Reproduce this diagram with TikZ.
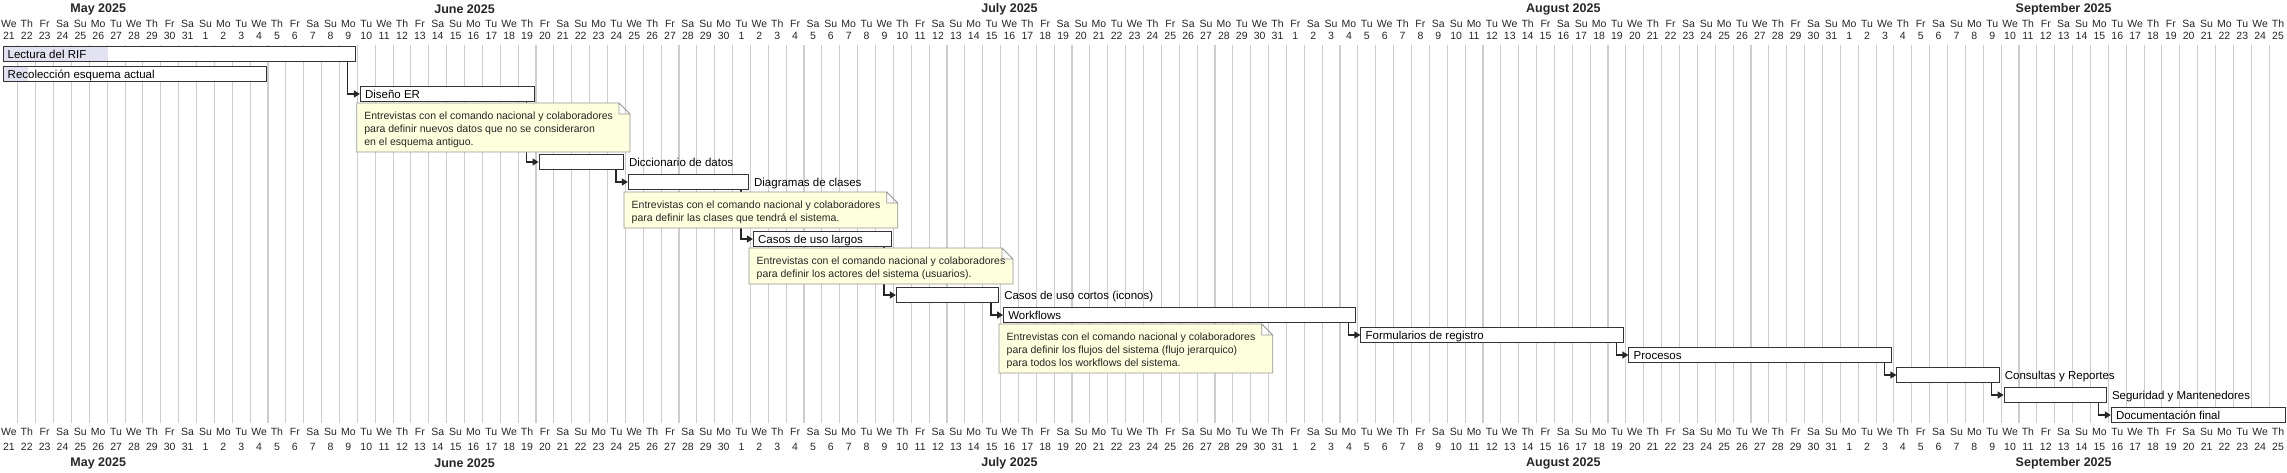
\documentclass[tikz,border=0pt]{standalone}
\usepackage{fontspec}
\setmainfont{Liberation Sans}
\usetikzlibrary{arrows.meta}
\newcommand\daywd{17.867}
\definecolor{notefill}{RGB}{254,255,221}
\definecolor{noteline}{RGB}{150,150,150}
\definecolor{donefill}{RGB}{226,226,240}
\definecolor{gridline}{RGB}{205,205,205}
\begin{document}
\begin{tikzpicture}[x=1pt,y=-1pt]
        \tikzstyle{bar} = [draw=black!80, line width=1pt, fill=white, anchor=north west, minimum height=15pt, inner sep=0pt]
        \tikzstyle{tasktext} = [font=\fontsize{11.5}{13}\selectfont, inner sep=0pt, text height=8.5pt, text depth=0pt]
        \tikzstyle{dep} = [line width=1.3pt, draw=black!85, -{Triangle[length=6pt,width=7pt]}]
        \tikzstyle{gridln} = [line width=1.1pt, draw=gridline]
        \tikzstyle{daytext} = [font=\fontsize{10.5}{12}\selectfont, inner sep=0pt, text height=7.5pt, text depth=0pt, text=black!85]
        \tikzstyle{month} = [font=\bfseries\fontsize{12.5}{14}\selectfont, inner sep=0pt, text=black!85]
        \tikzstyle{notebox} = [draw=noteline, fill=notefill, line width=0.9pt, line join=round]
        \tikzstyle{notetext} = [anchor=north west, align=left, inner sep=0pt, font=\fontsize{10.5}{12.8}\selectfont, text=black!85]
        \tikzset{tin/.style={label={[tasktext, anchor=west, xshift=5pt]west:#1}},
                 tout/.style={label={[tasktext, anchor=west, xshift=5pt]east:#1}},
                 done/.style={path picture={\fill[donefill] (path picture bounding box.north west) rectangle ([xshift=#1]path picture bounding box.south west);}}}
        \useasboundingbox (0,0) rectangle (2287,472);
        % grid
        \foreach \i in {1,...,127}
          \draw[gridln] (\i*\daywd,45) -- (\i*\daywd,423);
        % calendar, top and bottom
        \foreach \i in {0,...,127} {
          \pgfmathsetmacro\dname{{"We","Th","Fr","Sa","Su","Mo","Tu"}[int(mod(\i,7))]}
          \pgfmathtruncatemacro\dnum{\i<11 ? \i+21 : (\i<41 ? \i-10 : (\i<72 ? \i-40 : (\i<103 ? \i-71 : \i-102)))}
          \node[daytext] (dn\i) at ({(\i+0.5)*\daywd},24) {\dname};
          \node[daytext] (dd\i) at ({(\i+0.5)*\daywd},36) {\dnum};
          \node[daytext] (bn\i) at ({(\i+0.5)*\daywd},432) {\dname};
          \node[daytext] (bd\i) at ({(\i+0.5)*\daywd},447) {\dnum};
        }
        \foreach \mx/\mname in {5.5/May, 26/June, 56.5/July, 87.5/August, 115.5/September} {
          \node[month] (mt\mname) at (\mx*\daywd,9) {\mname\ 2025};
          \node[month] (mb\mname) at (\mx*\daywd,463) {\mname\ 2025};
        }
        % tasks
        \node (lec) [bar, done=105pt, minimum width=20*\daywd-5, tin=Lectura del RIF] at (2.5,46) {};
        \node (rec) [bar, done=25pt, minimum width=15*\daywd-5, tin=Recolección esquema actual] at (2.5,66) {};
        \node (dis) [bar, minimum width=10*\daywd-5, tin=Diseño ER] at ({20*\daywd+2.5},86) {};
        \node (dic) [bar, minimum width=5*\daywd-5, tout=Diccionario de datos] at ({30*\daywd+2.5},154) {};
        \node (dia) [bar, minimum width=7*\daywd-5, tout=Diagramas de clases] at ({35*\daywd+2.5},174) {};
        \node (cul) [bar, minimum width=8*\daywd-5, tin=Casos de uso largos] at ({42*\daywd+2.5},231) {};
        \node (cuc) [bar, minimum width=6*\daywd-5, tout=Casos de uso cortos (iconos)] at ({50*\daywd+2.5},287) {};
        \node (wor) [bar, minimum width=20*\daywd-5, tin=Workflows] at ({56*\daywd+2.5},307) {};
        \node (frm) [bar, minimum width=15*\daywd-5, tin=Formularios de registro] at ({76*\daywd+2.5},327) {};
        \node (pro) [bar, minimum width=15*\daywd-5, tin=Procesos] at ({91*\daywd+2.5},347) {};
        \node (con) [bar, minimum width=6*\daywd-5, tout=Consultas y Reportes] at ({106*\daywd+2.5},367) {};
        \node (seg) [bar, minimum width=6*\daywd-5, tout=Seguridad y Mantenedores] at ({112*\daywd+2.5},387) {};
        \node (doc) [bar, minimum width=10*\daywd-5, tin=Documentación final] at ({118*\daywd+2.5},407) {};
        % dependencies
        \draw[dep] ([xshift=-8pt]lec.south east) |- (dis.west);
        \draw[dep] ([xshift=-8pt]dis.south east) |- (dic.west);
        \draw[dep] ([xshift=-8pt]dic.south east) |- (dia.west);
        \draw[dep] ([xshift=-8pt]dia.south east) |- (cul.west);
        \draw[dep] ([xshift=-8pt]cul.south east) |- (cuc.west);
        \draw[dep] ([xshift=-8pt]cuc.south east) |- (wor.west);
        \draw[dep] ([xshift=-8pt]wor.south east) |- (frm.west);
        \draw[dep] ([xshift=-8pt]frm.south east) |- (pro.west);
        \draw[dep] ([xshift=-8pt]pro.south east) |- (con.west);
        \draw[dep] ([xshift=-8pt]con.south east) |- (seg.west);
        \draw[dep] ([xshift=-8pt]seg.south east) |- (doc.west);
        % notes
        \foreach \nx/\ny/\nw/\nh in {356.7/103/273.3/49, 624/192/273.7/36, 749/248/264/36, 999/324/273.7/49}
          \draw[notebox] (\nx,\ny) -- ++(\nw-11,0) -- ++(11,11) -- ++(0,\nh-11) -- ++(-\nw,0) -- cycle
                         (\nx+\nw-11,\ny) -- ++(0,11) -- ++(11,0);
        \node[notetext] (n1) at (364.2,112) {Entrevistas con el comando nacional y colaboradores\\para definir nuevos datos que no se consideraron\\en el esquema antiguo.};
        \node[notetext] (n2) at (631.5,201) {Entrevistas con el comando nacional y colaboradores\\para definir las clases que tendrá el sistema.};
        \node[notetext] (n3) at (756.5,257) {Entrevistas con el comando nacional y colaboradores\\para definir los actores del sistema (usuarios).};
        \node[notetext] (n4) at (1006.5,333) {Entrevistas con el comando nacional y colaboradores\\para definir los flujos del sistema (flujo jerarquico)\\para todos los workflows del sistema.};
\end{tikzpicture}
\end{document}
